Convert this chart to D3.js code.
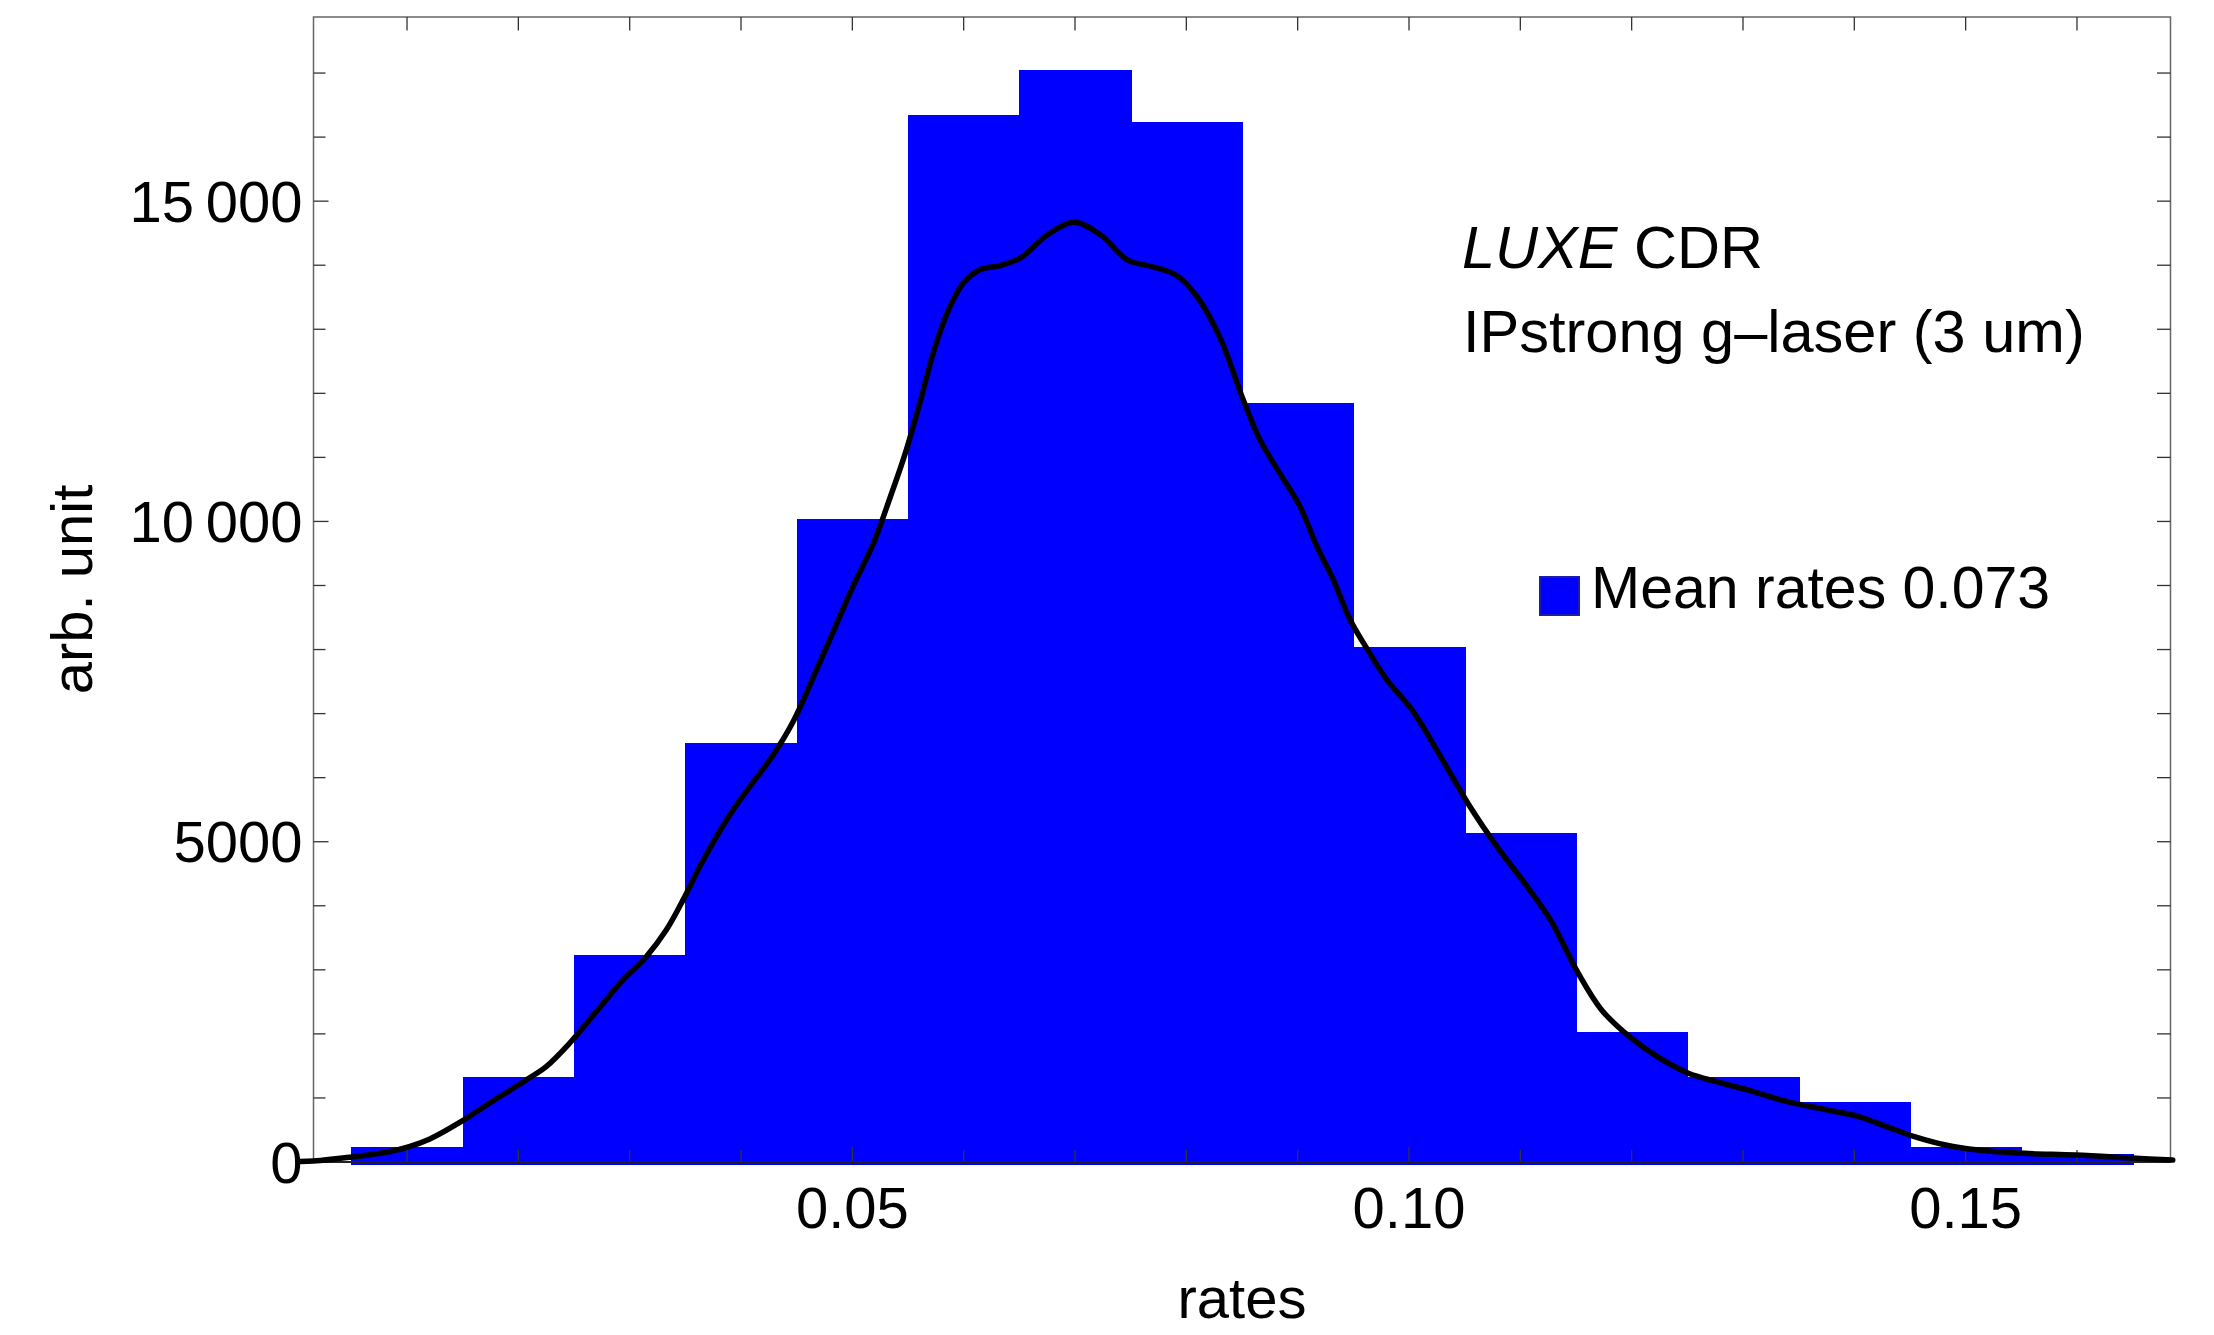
<!DOCTYPE html>
<html>
<head>
<meta charset="utf-8">
<script src="https://cdn.jsdelivr.net/npm/d3@7"></script>
<style>
  html, body { margin: 0; padding: 0; background: #fff; }
  svg { display: block; font-family: "Liberation Sans", Arial, Helvetica, sans-serif; }
</style>
</head>
<body>
<svg id="chart" width="2214" height="1335"></svg>
<script>
// ---------- data ----------
const binStarts = [0.005, 0.015, 0.025, 0.035, 0.045, 0.055, 0.065, 0.075,
                   0.085, 0.095, 0.105, 0.115, 0.125, 0.135, 0.145, 0.155];
const binWidth = 0.01;
const counts = [229, 1330, 3233, 6536, 10036, 16345, 17053, 16238,
                11842, 8040, 5136, 2031, 1330, 930, 229, 127];

const curveX = [0.0004, 0.0016, 0.0048, 0.0084, 0.0102, 0.0120, 0.0147, 0.0174, 0.0207, 0.0225,
                0.0246, 0.0270, 0.0294, 0.0315, 0.0333, 0.0348, 0.0363, 0.0378, 0.0393, 0.0408,
                0.0429, 0.0447, 0.0465, 0.0483, 0.0501, 0.0519, 0.0534, 0.0547, 0.0561, 0.0573,
                0.0585, 0.0600, 0.0615, 0.0633, 0.0651, 0.0675, 0.0699, 0.0723, 0.0747, 0.0770,
                0.0791, 0.0810, 0.0831, 0.0851, 0.0866, 0.0884, 0.0902, 0.0917, 0.0932, 0.0947,
                0.0962, 0.0980, 0.1003, 0.1030, 0.1054, 0.1080, 0.1104, 0.1127, 0.1152, 0.1173,
                0.1198, 0.1223, 0.1251, 0.1276, 0.1304, 0.1340, 0.1376, 0.1404, 0.1429, 0.1454,
                0.1482, 0.1511, 0.1553, 0.1599, 0.1653, 0.1686];
const curveY = [8, 15, 73, 161, 239, 355, 614, 917, 1281, 1489,
                1854, 2348, 2843, 3207, 3624, 4092, 4613, 5081, 5498, 5862,
                6357, 6880, 7568, 8285, 9002, 9660, 10378, 11036, 11871, 12649,
                13246, 13725, 13933, 13995, 14113, 14472, 14669, 14472, 14083, 13975,
                13844, 13500, 12840, 11903, 11278, 10750, 10236, 9620, 9091, 8470,
                8020, 7529, 7050, 6280, 5570, 4900, 4350, 3780, 2947, 2374,
                1957, 1645, 1385, 1255, 1125, 942, 812, 708, 552, 396,
                266, 187, 135, 109, 58, 30];

const xTickLabels = [0.05, 0.10, 0.15];
const xMinorTicks = [0.01, 0.02, 0.03, 0.04, 0.05, 0.06, 0.07, 0.08, 0.09, 0.10,
                     0.11, 0.12, 0.13, 0.14, 0.15, 0.16];
const yTickLabels = [0, 5000, 10000, 15000];
const yMinorTicks = d3.range(0, 18000, 1000);

const xTitle = "rates";
const yTitle = "arb. unit";
const legendLabel = "Mean rates 0.073";
const noteLine1Italic = "LUXE";
const noteLine1Rest = " CDR";
const noteLine2 = "IPstrong g\u2013laser (3 um)";

// ---------- layout ----------
const W = 2214, H = 1335;
const plot = { left: 313.5, right: 2170.5, top: 17, bottom: 1162 };
const FONT = 58;

const x = d3.scaleLinear().domain([0.0016, 0.1684]).range([plot.left, plot.right]);
const y = d3.scaleLinear().domain([0, 17875]).range([plot.bottom, plot.top]);

const svg = d3.select("#chart");
svg.append("rect").attr("width", W).attr("height", H).attr("fill", "#fff");

// ---------- bars ----------
const bars = binStarts.map((s, i) => ({ x0: s, x1: s + binWidth, v: counts[i] }));
svg.append("g").attr("shape-rendering", "crispEdges")
  .selectAll("rect").data(bars).join("rect")
  .attr("x", d => x(d.x0))
  .attr("width", d => x(d.x1) - x(d.x0) + 1)
  .attr("y", d => y(d.v))
  .attr("height", d => y(0) - y(d.v) + 3)
  .attr("fill", "#0000ff")
  .attr("stroke", "none");

// ---------- frame & ticks ----------
const tickColor = "#333";
const frame = svg.append("g");
frame.append("rect")
  .attr("x", plot.left).attr("y", plot.top)
  .attr("width", plot.right - plot.left).attr("height", plot.bottom - plot.top)
  .attr("fill", "none").attr("stroke", "#666").attr("stroke-width", 1.5);

const majorLen = 15, minorLen = 12, sideLen = 13.5;
const isMajorX = v => xTickLabels.some(t => Math.abs(t - v) < 1e-9);
const isMajorY = v => yTickLabels.includes(v);

// bottom ticks
frame.append("g").selectAll("line").data(xMinorTicks).join("line")
  .attr("x1", d => x(d)).attr("x2", d => x(d))
  .attr("y1", plot.bottom).attr("y2", d => plot.bottom - (isMajorX(d) ? majorLen : minorLen))
  .attr("stroke", tickColor).attr("stroke-width", 1.3);
// top ticks
frame.append("g").selectAll("line").data(xMinorTicks).join("line")
  .attr("x1", d => x(d)).attr("x2", d => x(d))
  .attr("y1", plot.top).attr("y2", plot.top + sideLen)
  .attr("stroke", tickColor).attr("stroke-width", 1.3);
// left ticks
frame.append("g").selectAll("line").data(yMinorTicks).join("line")
  .attr("y1", d => y(d)).attr("y2", d => y(d))
  .attr("x1", plot.left).attr("x2", d => plot.left + (isMajorY(d) ? majorLen : minorLen))
  .attr("stroke", tickColor).attr("stroke-width", 1.3);
// right ticks
frame.append("g").selectAll("line").data(yMinorTicks).join("line")
  .attr("y1", d => y(d)).attr("y2", d => y(d))
  .attr("x1", plot.right).attr("x2", plot.right - sideLen)
  .attr("stroke", tickColor).attr("stroke-width", 1.3);

// bottom axis line (zero line)
frame.append("line")
  .attr("x1", plot.left).attr("x2", plot.right)
  .attr("y1", y(0)).attr("y2", y(0))
  .attr("stroke", "#222").attr("stroke-width", 2);

// ---------- curve ----------
const pts = curveX.map((v, i) => [v, curveY[i]]);
const line = d3.line().x(d => x(d[0])).y(d => y(d[1])).curve(d3.curveCatmullRom.alpha(0.5));
svg.append("path").datum(pts)
  .attr("d", line)
  .attr("fill", "none")
  .attr("stroke", "#000")
  .attr("stroke-width", 5.5)
  .attr("stroke-linejoin", "round")
  .attr("stroke-linecap", "round");

// ---------- tick labels ----------
const fmtY = v => {
  if (v >= 10000) {
    const s = String(v);
    return s.slice(0, s.length - 3) + "\u2009" + s.slice(-3);
  }
  return String(v);
};
svg.append("g").selectAll("text").data(yTickLabels).join("text")
  .attr("x", plot.left - 11)
  .attr("y", d => y(d))
  .attr("dy", "0.358em")
  .attr("text-anchor", "end")
  .attr("font-size", FONT)
  .attr("fill", "#000")
  .text(fmtY);

svg.append("g").selectAll("text").data(xTickLabels).join("text")
  .attr("x", d => x(d))
  .attr("y", plot.bottom + 66)
  .attr("text-anchor", "middle")
  .attr("font-size", FONT)
  .attr("fill", "#000")
  .text(d => d.toFixed(2));

// ---------- axis titles ----------
svg.append("text")
  .attr("x", (plot.left + plot.right) / 2)
  .attr("y", 1318)
  .attr("text-anchor", "middle")
  .attr("font-size", FONT)
  .text(xTitle);

svg.append("text")
  .attr("transform", `translate(92,${(plot.top + plot.bottom) / 2}) rotate(-90)`)
  .attr("text-anchor", "middle")
  .attr("font-size", FONT)
  .text(yTitle);

// ---------- annotation ----------
const note = svg.append("text").attr("x", 1462).attr("y", 268).attr("font-size", 59.5);
note.append("tspan").attr("font-style", "italic").text(noteLine1Italic);
note.append("tspan").text(noteLine1Rest);
svg.append("text").attr("x", 1463).attr("y", 351.5).attr("font-size", 59.5).text(noteLine2);

// ---------- legend ----------
svg.append("rect")
  .attr("x", 1540).attr("y", 577).attr("width", 39).attr("height", 38)
  .attr("fill", "#0000ff").attr("stroke", "#1c1ca6").attr("stroke-width", 2);
svg.append("text").attr("x", 1591).attr("y", 608).attr("font-size", 59).text(legendLabel);
</script>
</body>
</html>
